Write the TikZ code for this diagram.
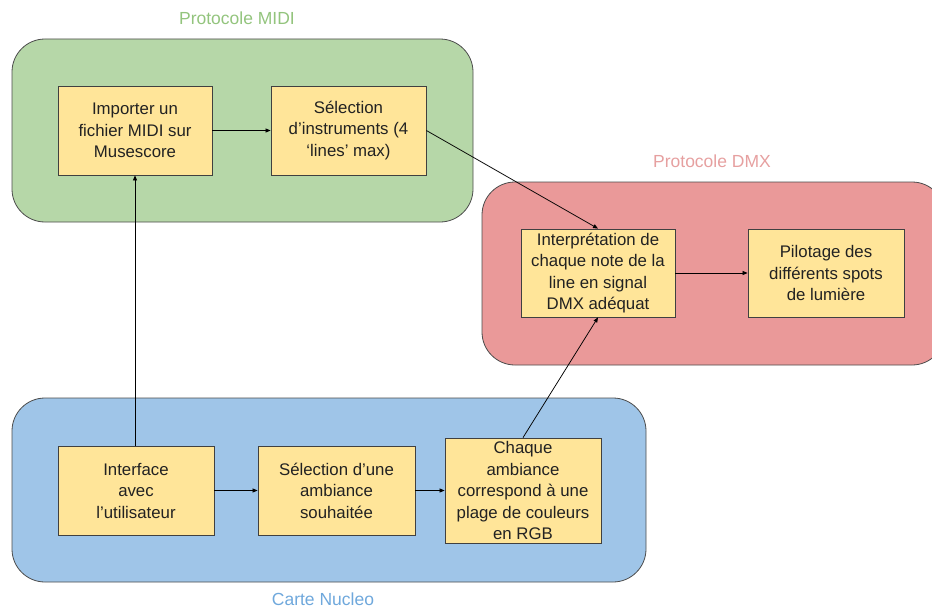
\documentclass[tikz,border=0pt]{standalone}
\usepackage{fontspec}
\setmainfont{Liberation Sans}
\usetikzlibrary{arrows.meta}

\definecolor{midifill}{HTML}{B6D7A8}
\definecolor{midilabel}{HTML}{93C47D}
\definecolor{dmxfill}{HTML}{EA9999}
\definecolor{dmxlabel}{HTML}{E6A0A0}
\definecolor{nucleofill}{HTML}{9FC5E8}
\definecolor{nucleolabel}{HTML}{6FA8DC}
\definecolor{stepfill}{HTML}{FFE599}
\definecolor{textgray}{HTML}{222222}

\tikzset{
  zone/.style={draw=black!70, line width=0.8pt, rounded corners=33pt},
  zonelabel/.style={font=\fontsize{17.5}{21}\selectfont},
  stepbox/.style={draw=black!75, line width=0.8pt, fill=stepfill, align=center,
    text=textgray, inner sep=0pt, font=\fontsize{16.8}{21.5}\selectfont},
  link/.style={-{Triangle[length=5pt,width=4pt]}, line width=0.75pt}
}

\begin{document}
\begin{tikzpicture}[x=1pt,y=-1pt]
        \useasboundingbox (0,0) rectangle (932,610);
        \clip (0,0) rectangle (932,610);

        % Draw zones
        \draw[zone, fill=midifill] (12,39) rectangle (473,222);
        \draw[zone, fill=dmxfill] (482,182) rectangle (945,365);
        \draw[zone, fill=nucleofill] (12,398) rectangle (646,582);

        % Zone titles
        \node[zonelabel, text=midilabel] (midititle) at (237,18) {Protocole MIDI};
        \node[zonelabel, text=dmxlabel] (dmxtitle) at (712,161) {Protocole DMX};
        \node[zonelabel, text=nucleolabel] (nucleotitle) at (323,599) {Carte Nucleo};

        % Steps
        \node[stepbox, minimum width=154pt, minimum height=89pt] (importer) at (135,130.5)
            {Importer un\\fichier MIDI sur\\Musescore};
        \node[stepbox, minimum width=155pt, minimum height=89pt] (selinstr) at (348.5,130.5)
            {Sélection\\d’instruments (4\\‘lines’ max)};
        \node[stepbox, minimum width=154pt, minimum height=88pt] (interp) at (598,273)
            {Interprétation de\\chaque note de la\\line en signal\\DMX adéquat};
        \node[stepbox, minimum width=156pt, minimum height=88pt] (pilotage) at (826,273)
            {Pilotage des\\différents spots\\de lumière};
        \node[stepbox, minimum width=156pt, minimum height=89pt] (interface) at (136,490.5)
            {Interface\\avec\\l’utilisateur};
        \node[stepbox, minimum width=157pt, minimum height=89pt] (selamb) at (336.5,490.5)
            {Sélection d’une\\ambiance\\souhaitée};
        \node[stepbox, minimum width=156pt, minimum height=105pt] (chaque) at (523,490.5)
            {Chaque\\ambiance\\correspond à une\\plage de couleurs\\en RGB};

        % Links
        \draw[link] (importer) -- (selinstr);
        \draw[link] (selinstr.east) -- (interp.north);
        \draw[link] (interp) -- (pilotage);
        \draw[link] (interface.north -| importer.south) -- (importer.south);
        \draw[link] (interface) -- (selamb);
        \draw[link] (selamb) -- (chaque);
        \draw[link] (chaque.north) -- (interp.south);
    \end{tikzpicture}
\end{document}
